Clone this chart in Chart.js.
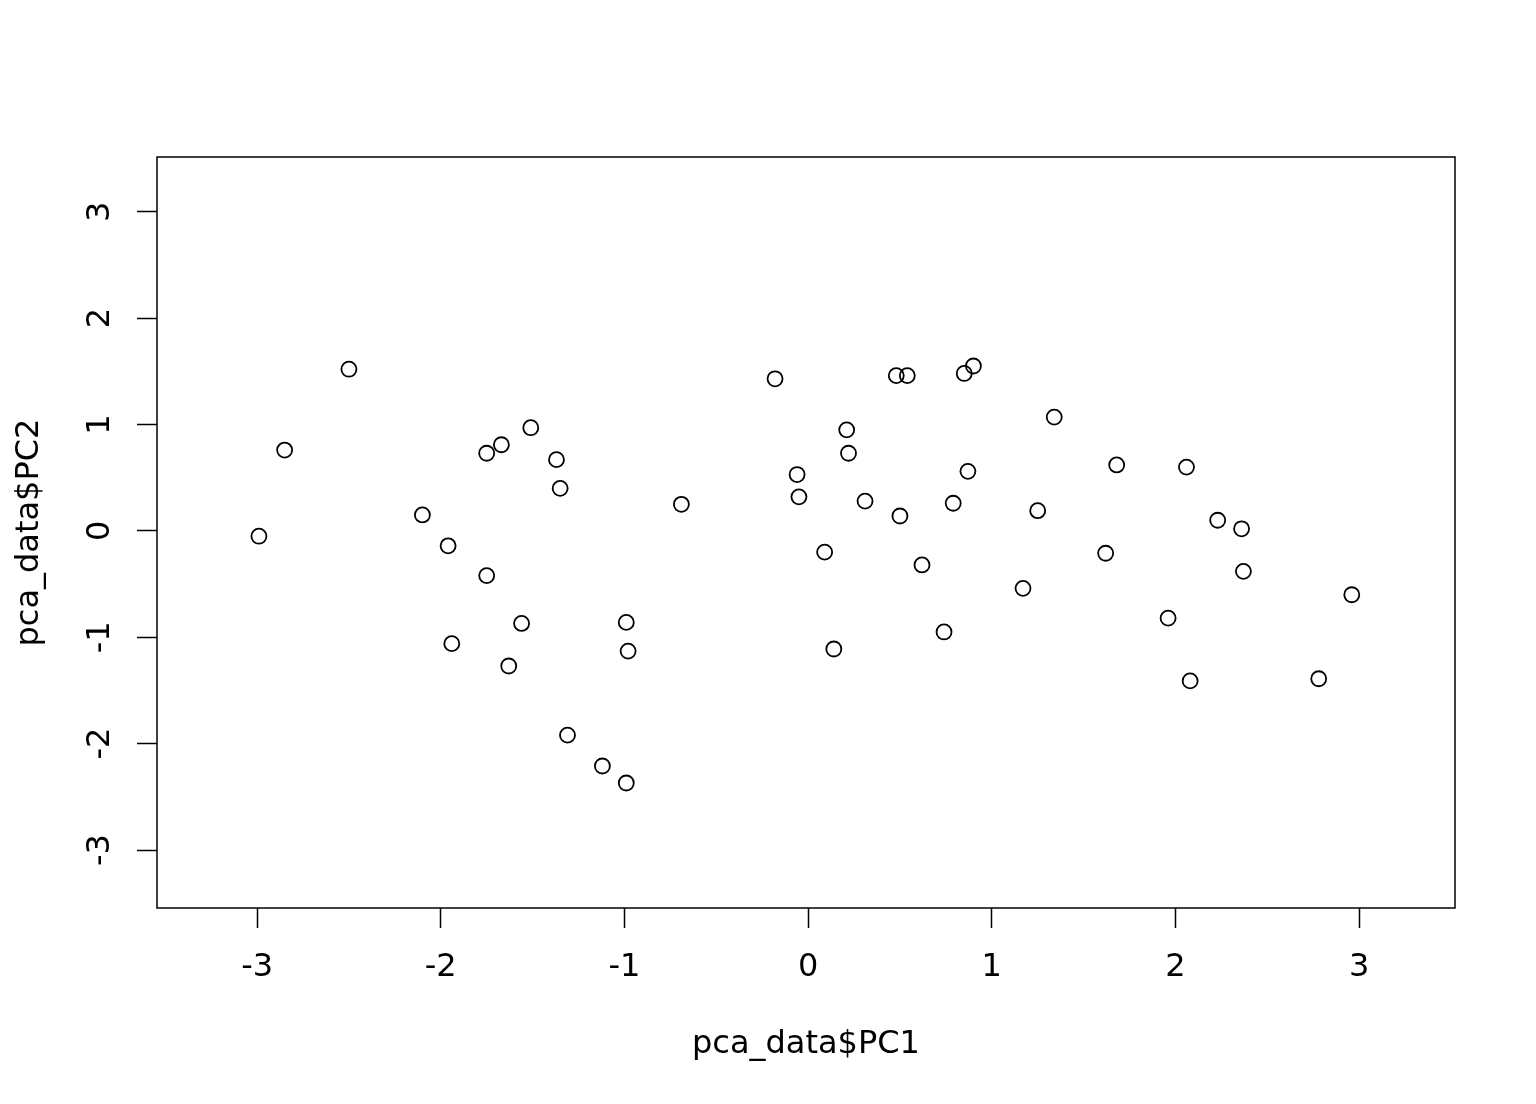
<!DOCTYPE html>
<html>
<head>
<meta charset="utf-8">
<script src="https://cdn.jsdelivr.net/npm/chart.js@4.4.0/dist/chart.umd.min.js"></script>
<style>
  html, body { margin: 0; padding: 0; background: #fff; }
  #wrap { width: 1536px; height: 1104px; }
</style>
</head>
<body>
<div id="wrap"><canvas id="myChart"></canvas></div>
<script>
// datos (PC1, PC2)
const PC1 = [-2.99, -2.85, -2.50, -2.10, -1.96, -1.94, -1.75, -1.75, -1.67, -1.63,
             -1.56, -1.51, -1.37, -1.35, -1.31, -1.12, -0.99, -0.98, -0.99, -0.69,
             -0.18, -0.06, -0.05, 0.09, 0.14, 0.21, 0.22, 0.31, 0.48, 0.50,
             0.54, 0.62, 0.74, 0.79, 0.85, 0.87, 0.90, 1.17, 1.25, 1.34,
             1.62, 1.68, 1.96, 2.06, 2.08, 2.23, 2.36, 2.37, 2.78, 2.96];
const PC2 = [-0.05, 0.76, 1.52, 0.15, -0.14, -1.06, 0.73, -0.42, 0.81, -1.27,
             -0.87, 0.97, 0.67, 0.40, -1.92, -2.21, -0.86, -1.13, -2.37, 0.25,
             1.43, 0.53, 0.32, -0.20, -1.11, 0.95, 0.73, 0.28, 1.46, 0.14,
             1.46, -0.32, -0.95, 0.26, 1.48, 0.56, 1.55, -0.54, 0.19, 1.07,
             -0.21, 0.62, -0.82, 0.60, -1.41, 0.10, 0.02, -0.38, -1.39, -0.60];
const X_TICKS = [-3, -2, -1, 0, 1, 2, 3];
const Y_TICKS = [-3, -2, -1, 0, 1, 2, 3];
const X_TITLE = 'pca_data$PC1';
const Y_TITLE = 'pca_data$PC2';

const FONT = '32px "DejaVu Sans", sans-serif';

// caja, etiquetas de ticks y titulos al estilo de R base
const rPlot = {
    id: 'rPlot',
    afterDraw(chart) {
        const ctx = chart.ctx;
        const a = chart.chartArea;
        const sx = chart.scales.x;
        const sy = chart.scales.y;
        ctx.save();
        ctx.strokeStyle = '#000';
        ctx.lineWidth = 1.5;
        ctx.strokeRect(a.left, a.top, a.right - a.left, a.bottom - a.top);

        ctx.fillStyle = '#000';
        ctx.font = FONT;
        ctx.textAlign = 'center';
        ctx.textBaseline = 'middle';
        X_TICKS.forEach(v => {
            ctx.fillText(String(v), sx.getPixelForValue(v), 968);
        });
        Y_TICKS.forEach(v => {
            ctx.save();
            ctx.translate(101, sy.getPixelForValue(v));
            ctx.rotate(-Math.PI / 2);
            ctx.fillText(String(v), 0, 0);
            ctx.restore();
        });

        ctx.fillText(X_TITLE, (a.left + a.right) / 2, 1045);
        ctx.save();
        ctx.translate(30, (a.top + a.bottom) / 2);
        ctx.rotate(-Math.PI / 2);
        ctx.fillText(Y_TITLE, 0, 0);
        ctx.restore();
        ctx.restore();
    }
};

const chart = document.getElementById('myChart');

new Chart(chart, {
    type: 'scatter',
    data: {
        datasets: [{
            data: PC1.map((x, i) => ({ x: x, y: PC2[i] })),
            pointRadius: 7.5,
            pointHoverRadius: 7.5,
            borderWidth: 1.8,
            borderColor: '#000',
            backgroundColor: 'rgba(0,0,0,0)'
        }]
    },
    plugins: [rPlot],
    options: {
        responsive: true,
        maintainAspectRatio: false,
        animation: false,
        events: [],
        layout: { padding: { top: 157, right: 81, left: 0, bottom: 0 } },
        plugins: {
            legend: { display: false },
            tooltip: { enabled: false }
        },
        scales: {
            x: {
                type: 'linear',
                min: -3.545,
                max: 3.522,
                afterBuildTicks: (scale) => { scale.ticks = X_TICKS.map(v => ({ value: v })); },
                afterFit: (scale) => { scale.height = 196; },
                ticks: { display: false },
                border: { display: false },
                grid: {
                    display: true,
                    drawOnChartArea: false,
                    drawTicks: true,
                    tickLength: 20,
                    tickWidth: 1.5,
                    tickColor: '#000'
                }
            },
            y: {
                type: 'linear',
                min: -3.545,
                max: 3.515,
                afterBuildTicks: (scale) => { scale.ticks = Y_TICKS.map(v => ({ value: v })); },
                afterFit: (scale) => { scale.width = 157; },
                ticks: { display: false },
                border: { display: false },
                grid: {
                    display: true,
                    drawOnChartArea: false,
                    drawTicks: true,
                    tickLength: 20,
                    tickWidth: 1.5,
                    tickColor: '#000'
                }
            }
        }
    }
});
</script>
</body>
</html>
